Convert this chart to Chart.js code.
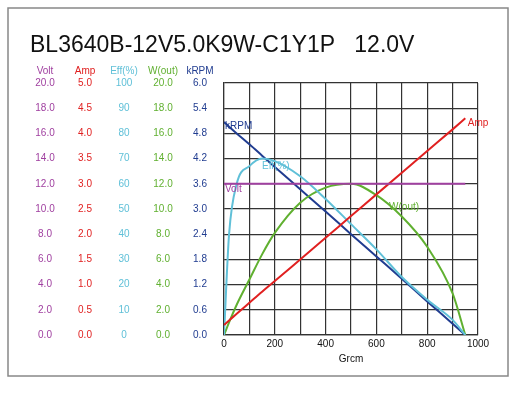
<!DOCTYPE html>
<html><head><meta charset="utf-8">
<script src="https://cdn.jsdelivr.net/npm/chart.js@4"></script>
<style>body{margin:0;background:#fff}#wrap{width:516px;height:400px;position:relative}</style>
</head><body><div id="wrap"><canvas id="chart"></canvas></div>
<script>
const torque = [0, 20, 50, 100, 150, 200, 300, 400, 500, 600, 700, 800, 900, 950];
const volt = [12, 12, 12, 12, 12, 12, 12, 12, 12, 12, 12, 12, 12, 12];
const amp = [0.2, 0.29, 0.42, 0.64, 0.86, 1.07, 1.5, 1.93, 2.36, 2.79, 3.22, 3.65, 4.08, 4.3];
const krpm = [5.07, 4.96, 4.8, 4.54, 4.27, 4.0, 3.47, 2.94, 2.4, 1.87, 1.34, 0.8, 0.27, 0];
const eff = [0, 40, 60, 67, 70, 69, 63, 54, 44, 34, 23, 14, 6, 0];
const wout = [0, 1.0, 2.4, 4.4, 6.4, 8.1, 10.5, 11.7, 12.0, 11.1, 9.4, 7.0, 3.3, 0];
const xTicks = [0, 200, 400, 600, 800, 1000];
const voltTicks = ['0.0','2.0','4.0','6.0','8.0','10.0','12.0','14.0','16.0','18.0','20.0'];
const ampTicks = ['0.0','0.5','1.0','1.5','2.0','2.5','3.0','3.5','4.0','4.5','5.0'];
const effTicks = ['0','10','20','30','40','50','60','70','80','90','100'];
const woutTicks = ['0.0','2.0','4.0','6.0','8.0','10.0','12.0','14.0','16.0','18.0','20.0'];
const krpmTicks = ['0.0','0.6','1.2','1.8','2.4','3.0','3.6','4.2','4.8','5.4','6.0'];

const C = { volt: '#a040a0', amp: '#e02020', eff: '#60c0d8', wout: '#60b030', krpm: '#203c90' };
const pts = arr => arr.map((v, i) => ({ x: torque[i], y: v }));

const sideLabels = {
  id: 'sideLabels',
  afterDraw(chart) {
    const c = chart.ctx, y = chart.scales.y;
    c.save();
    c.strokeStyle = '#888'; c.lineWidth = 1.5;
    c.strokeRect(8, 8, 500, 368);
    c.fillStyle = '#111'; c.font = '23px Arial, "Liberation Sans"'; c.textBaseline = 'middle';
    c.fillText('BL3640B-12V5.0K9W-C1Y1P   12.0V', 30, 46);
    const cols = [
      ['Volt', voltTicks, C.volt, 45],
      ['Amp', ampTicks, C.amp, 85],
      ['Eff(%)', effTicks, C.eff, 124],
      ['W(out)', woutTicks, C.wout, 163],
      ['kRPM', krpmTicks, C.krpm, 200]
    ];
    c.font = '10px Arial, "Liberation Sans"'; c.textAlign = 'center';
    cols.forEach(([name, ticks, col, x]) => {
      c.fillStyle = col;
      c.fillText(name, x, 71);
      ticks.forEach((t, i) => c.fillText(t, x, y.getPixelForValue(i * 2)));
    });
    const xs = chart.scales.x, ys = y;
    c.textAlign = 'left';
    c.fillStyle = C.krpm; c.fillText('kRPM', xs.getPixelForValue(0) + 1, ys.getPixelForValue(16.9) + 4);
    c.fillStyle = C.eff; c.fillText('Eff(%)', xs.getPixelForValue(150), ys.getPixelForValue(13.4));
    c.fillStyle = C.volt; c.fillText('Volt', xs.getPixelForValue(0) + 1, ys.getPixelForValue(11.6));
    c.fillStyle = C.amp; c.fillText('Amp', xs.getPixelForValue(960), ys.getPixelForValue(16.8));
    c.fillStyle = C.wout; c.fillText('W(out)', xs.getPixelForValue(650), ys.getPixelForValue(10.1));
    c.restore();
  }
};

const line = (data, col) => ({ data, borderColor: col, borderWidth: 2, pointRadius: 0, fill: false, tension: 0.4, cubicInterpolationMode: 'monotone' });

new Chart(document.getElementById('chart'), {
  type: 'line',
  data: {
    datasets: [
      line(pts(volt), C.volt),
      line(pts(amp.map(v => v * 4)), C.amp),
      line(pts(eff.map(v => v / 5)), C.eff),
      line(pts(wout), C.wout),
      line(pts(krpm.map(v => v * 10 / 3)), C.krpm)
    ]
  },
  options: {
    responsive: true, maintainAspectRatio: false, animation: false,
    layout: { padding: { left: 224, right: 38, top: 83, bottom: 35 } },
    plugins: { legend: { display: false }, tooltip: { enabled: false } },
    scales: {
      x: {
        type: 'linear', min: 0, max: 1000,
        afterBuildTicks: s => { s.ticks = Array.from({ length: 11 }, (_, i) => ({ value: i * 100 })); },
        ticks: { color: '#111', font: { size: 10 }, callback: v => xTicks.includes(v) ? v : '' , maxRotation: 0, autoSkip: false },
        grid: { color: '#333', lineWidth: 1.2, drawTicks: false },
        border: { color: '#333', width: 1.2 },
        title: { display: true, text: 'Grcm', color: '#111', font: { size: 10 }, padding: 0 }
      },
      y: {
        min: 0, max: 20,
        ticks: { display: false, stepSize: 2 },
        grid: { color: '#333', lineWidth: 1.2, drawTicks: false },
        border: { color: '#333', width: 1.2 }
      }
    }
  },
  plugins: [sideLabels]
});
</script></body></html>
